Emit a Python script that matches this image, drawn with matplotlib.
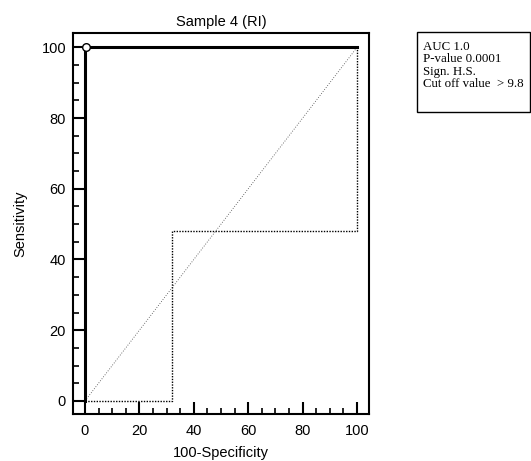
import matplotlib.pyplot as plt
from matplotlib.patches import Rectangle
from matplotlib.ticker import MultipleLocator

# ROC curve points (100-Specificity, Sensitivity)
roc_x = [0, 0, 100]
roc_y = [0, 100, 100]
cut_x = [0.5]
cut_y = [100]

# dotted step curve
step_x = [0, 32, 32, 100, 100]
step_y = [0, 0, 48, 48, 100]

diag = [0, 100]

stats_lines = ['AUC 1.0', 'P-value 0.0001', 'Sign. H.S.', 'Cut off value  > 9.8']

plt.rcParams['font.family'] = ['Liberation Sans', 'DejaVu Sans']

fig = plt.figure(figsize=(5.31, 4.61), dpi=100)
ax = fig.add_axes([0.1375, 0.102, 0.5575, 0.826])

ax.plot(diag, diag, color='#444444', linewidth=0.6, linestyle=(0, (1, 2)))
ax.plot(step_x, step_y, color='black', linewidth=1.0, linestyle=(0, (1, 1)))
ax.plot(roc_x, roc_y, color='black', linewidth=2.2, solid_joinstyle='miter')
ax.plot(cut_x, cut_y, marker='o', markersize=5.5, markerfacecolor='white',
        markeredgecolor='black', markeredgewidth=1.0, linestyle='none')

ax.set_xlim(-4.4, 104.4)
ax.set_ylim(-3.7, 104)
ax.xaxis.set_major_locator(MultipleLocator(20))
ax.xaxis.set_minor_locator(MultipleLocator(5))
ax.yaxis.set_major_locator(MultipleLocator(20))
ax.yaxis.set_minor_locator(MultipleLocator(5))
ax.tick_params(which='major', direction='in', length=8.6, width=1.5, labelsize=10.5)
ax.tick_params(axis='x', which='major', pad=7)
ax.tick_params(axis='y', which='major', pad=5)
ax.tick_params(which='minor', direction='in', length=4.3, width=1.2)
for s in ax.spines.values():
    s.set_linewidth(1.5)

ax.set_title('Sample 4 (RI)', fontsize=10.5, pad=5)
ax.set_xlabel('100-Specificity', fontsize=10.5, labelpad=6)
ax.set_ylabel('Sensitivity', fontsize=10.5, labelpad=10)

fig.patches.append(Rectangle((417 / 531, 1 - 112 / 461), 113 / 531, 80 / 461,
                             transform=fig.transFigure, fill=False,
                             edgecolor='black', linewidth=1.0))
for i, line in enumerate(stats_lines):
    fig.text(423 / 531, 1 - (47 + i * 12.3) / 461, line, fontsize=9.3,
             family='Liberation Serif', va='center', ha='left')

fig.savefig('out.png', dpi=100)
